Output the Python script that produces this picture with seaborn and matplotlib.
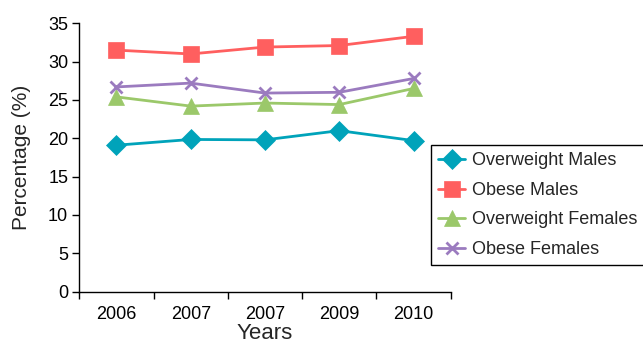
import matplotlib
matplotlib.use("Agg")
import matplotlib.pyplot as plt
import seaborn as sns
import pandas as pd
import numpy as np

years = ["2006", "2007", "2007", "2009", "2010"]
overweight_males = [19.1, 19.85, 19.8, 21.0, 19.7]
obese_males = [31.5, 31.0, 31.9, 32.1, 33.3]
overweight_females = [25.4, 24.2, 24.6, 24.4, 26.5]
obese_females = [26.7, 27.2, 25.9, 26.0, 27.8]

series_names = ["Overweight Males", "Obese Males", "Overweight Females", "Obese Females"]
series_values = [overweight_males, obese_males, overweight_females, obese_females]
colors = ["#00A3BA", "#FF5F5F", "#9BC86A", "#9B7BBF"]
markers = ["D", "s", "^", "x"]
msizes = [10, 11, 11, 9]

sns.set_theme(style="white")
plt.rcParams["font.family"] = ["Liberation Sans", "DejaVu Sans"]

rows = []
for name, vals in zip(series_names, series_values):
    for i, v in enumerate(vals):
        rows.append({"pos": i, "value": v, "series": name})
df = pd.DataFrame(rows)

fig = plt.figure(figsize=(6.43, 3.46), dpi=100)
ax = fig.add_axes([0.1233, 0.157, 0.701 - 0.1233, 0.9327 - 0.157])

for name, c, m, ms in zip(series_names, colors, markers, msizes):
    sub = df[df["series"] == name]
    sns.lineplot(data=sub, x="pos", y="value", ax=ax, color=c, marker=m,
                 markersize=ms, linewidth=2, markeredgecolor=c,
                 markeredgewidth=2 if m == "x" else 0.5, label=name, legend=False)

ax.set_xlim(-0.5, len(years) - 0.5)
ax.set_ylim(0, 35)
ax.set_yticks(np.arange(0, 36, 5))
ax.set_xticks(range(len(years)))
ax.set_xticklabels(years)
ax.set_xticks(np.arange(-0.5, len(years), 1.0), minor=True)
ax.tick_params(axis="x", which="major", length=0, labelsize=13, pad=10, colors="black")
ax.tick_params(axis="x", which="minor", length=5, width=1, direction="out", color="black", bottom=True)
ax.tick_params(axis="y", which="major", length=5, width=1, direction="out", labelsize=13,
               left=True, colors="black", pad=3)
for s in ["top", "right"]:
    ax.spines[s].set_visible(False)
for s in ["left", "bottom"]:
    ax.spines[s].set_color("black")
    ax.spines[s].set_linewidth(1)
ax.set_xlabel("Years", fontsize=16, labelpad=0)
ax.set_ylabel("Percentage (%)", fontsize=15, labelpad=12)

handles, labels = ax.get_legend_handles_labels()
leg = fig.legend(handles, labels, loc="upper left", bbox_to_anchor=(431 / 643, 1 - 145 / 346),
                 bbox_transform=fig.transFigure, fontsize=13, frameon=True, fancybox=False,
                 edgecolor="black", framealpha=1, handlelength=1.5, handletextpad=0.35,
                 labelspacing=0.7, borderpad=0.4, borderaxespad=0)
leg.get_frame().set_linewidth(1)

fig.savefig("out.png", dpi=100)
